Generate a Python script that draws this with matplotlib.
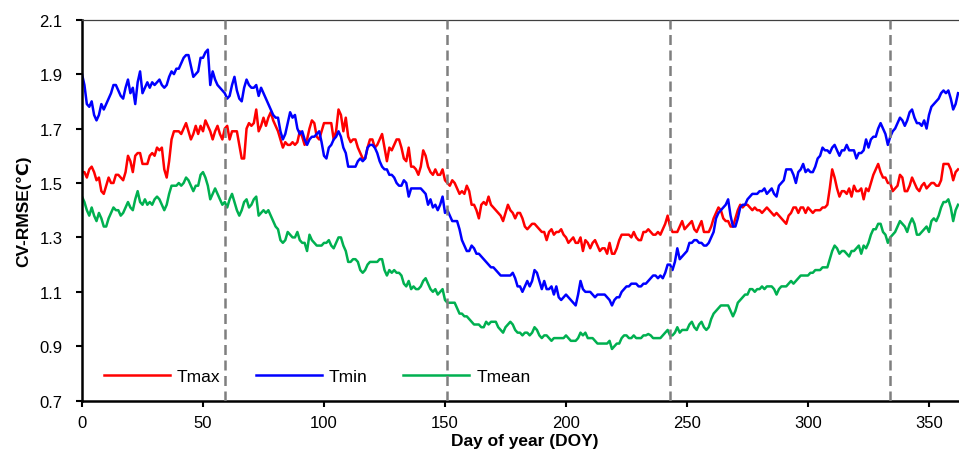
import matplotlib
matplotlib.use("Agg")
import matplotlib.pyplot as plt

plt.rcParams['font.family'] = ['Liberation Sans', 'DejaVu Sans']

# CV-RMSE by day of year
tmax = [
    1.54, 1.54, 1.52, 1.55, 1.56, 1.54, 1.51, 1.52, 1.47, 1.46,
    1.49, 1.52, 1.50, 1.50, 1.53, 1.53, 1.52, 1.51, 1.54, 1.60,
    1.58, 1.54, 1.60, 1.61, 1.61, 1.57, 1.57, 1.57, 1.60, 1.61,
    1.60, 1.63, 1.62, 1.63, 1.55, 1.52, 1.58, 1.66, 1.69, 1.69,
    1.69, 1.68, 1.70, 1.72, 1.69, 1.66, 1.68, 1.71, 1.68, 1.71,
    1.69, 1.73, 1.71, 1.69, 1.66, 1.69, 1.71, 1.68, 1.66, 1.70,
    1.71, 1.66, 1.69, 1.69, 1.69, 1.64, 1.59, 1.59, 1.70, 1.72,
    1.71, 1.72, 1.77, 1.69, 1.71, 1.74, 1.71, 1.74, 1.76, 1.73,
    1.71, 1.69, 1.66, 1.63, 1.65, 1.64, 1.64, 1.65, 1.64, 1.65,
    1.69, 1.67, 1.64, 1.66, 1.70, 1.73, 1.72, 1.67, 1.66, 1.69,
    1.72, 1.72, 1.72, 1.72, 1.66, 1.69, 1.77, 1.75, 1.69, 1.74,
    1.67, 1.65, 1.66, 1.66, 1.63, 1.61, 1.59, 1.59, 1.63, 1.66,
    1.66, 1.63, 1.64, 1.66, 1.68, 1.63, 1.58, 1.63, 1.62, 1.64,
    1.66, 1.66, 1.63, 1.59, 1.58, 1.63, 1.56, 1.56, 1.55, 1.53,
    1.56, 1.62, 1.60, 1.56, 1.54, 1.53, 1.55, 1.53, 1.53, 1.55,
    1.51, 1.50, 1.49, 1.51, 1.50, 1.48, 1.46, 1.47, 1.46, 1.49,
    1.47, 1.42, 1.42, 1.40, 1.37, 1.42, 1.43, 1.42, 1.45, 1.42,
    1.41, 1.40, 1.39, 1.38, 1.36, 1.39, 1.42, 1.40, 1.39, 1.37,
    1.39, 1.39, 1.37, 1.34, 1.33, 1.34, 1.35, 1.35, 1.34, 1.33,
    1.32, 1.32, 1.29, 1.32, 1.33, 1.31, 1.32, 1.32, 1.33, 1.31,
    1.30, 1.28, 1.29, 1.30, 1.28, 1.28, 1.30, 1.25, 1.29, 1.28,
    1.26, 1.28, 1.29, 1.27, 1.25, 1.26, 1.26, 1.24, 1.28, 1.24,
    1.24, 1.26, 1.29, 1.31, 1.31, 1.31, 1.31, 1.30, 1.32, 1.30,
    1.29, 1.29, 1.32, 1.32, 1.33, 1.32, 1.31, 1.31, 1.32, 1.31,
    1.33, 1.35, 1.38, 1.34, 1.32, 1.32, 1.32, 1.34, 1.36, 1.33,
    1.34, 1.35, 1.36, 1.33, 1.32, 1.34, 1.36, 1.32, 1.32, 1.32,
    1.34, 1.37, 1.39, 1.41, 1.40, 1.37, 1.36, 1.36, 1.34, 1.34,
    1.37, 1.40, 1.42, 1.41, 1.42, 1.42, 1.41, 1.40, 1.41, 1.40,
    1.40, 1.39, 1.40, 1.41, 1.40, 1.39, 1.38, 1.39, 1.38, 1.37,
    1.36, 1.35, 1.38, 1.39, 1.41, 1.41, 1.39, 1.41, 1.41, 1.39,
    1.41, 1.40, 1.39, 1.40, 1.40, 1.40, 1.41, 1.41, 1.42, 1.48,
    1.55, 1.52, 1.48, 1.45, 1.47, 1.47, 1.46, 1.48, 1.45, 1.49,
    1.47, 1.47, 1.48, 1.44, 1.48, 1.47, 1.50, 1.53, 1.55, 1.57,
    1.54, 1.52, 1.52, 1.50, 1.50, 1.47, 1.48, 1.49, 1.53, 1.52,
    1.47, 1.47, 1.49, 1.52, 1.50, 1.48, 1.47, 1.49, 1.50, 1.48,
    1.49, 1.50, 1.50, 1.49, 1.49, 1.51, 1.57, 1.57, 1.57, 1.55,
    1.51, 1.54, 1.55,
]

tmin = [
    1.90, 1.86, 1.79, 1.78, 1.80, 1.75, 1.73, 1.75, 1.79, 1.77,
    1.79, 1.81, 1.83, 1.86, 1.86, 1.84, 1.82, 1.81, 1.85, 1.88,
    1.83, 1.85, 1.79, 1.87, 1.91, 1.83, 1.85, 1.87, 1.85, 1.87,
    1.86, 1.87, 1.88, 1.86, 1.85, 1.86, 1.89, 1.91, 1.90, 1.92,
    1.92, 1.94, 1.96, 1.97, 1.97, 1.93, 1.89, 1.90, 1.91, 1.96,
    1.96, 1.98, 1.99, 1.86, 1.91, 1.88, 1.86, 1.85, 1.84, 1.83,
    1.81, 1.82, 1.86, 1.89, 1.84, 1.81, 1.80, 1.85, 1.88, 1.86,
    1.85, 1.85, 1.86, 1.82, 1.85, 1.83, 1.81, 1.79, 1.77, 1.75,
    1.74, 1.74, 1.69, 1.66, 1.68, 1.72, 1.76, 1.74, 1.75, 1.70,
    1.68, 1.69, 1.66, 1.64, 1.66, 1.67, 1.67, 1.68, 1.69, 1.65,
    1.60, 1.59, 1.63, 1.64, 1.66, 1.67, 1.69, 1.67, 1.63, 1.61,
    1.56, 1.56, 1.56, 1.56, 1.58, 1.59, 1.58, 1.59, 1.63, 1.64,
    1.64, 1.63, 1.61, 1.58, 1.56, 1.55, 1.55, 1.53, 1.53, 1.52,
    1.50, 1.49, 1.49, 1.51, 1.50, 1.45, 1.48, 1.48, 1.48, 1.48,
    1.48, 1.47, 1.46, 1.42, 1.44, 1.41, 1.42, 1.40, 1.42, 1.45,
    1.39, 1.40, 1.38, 1.36, 1.36, 1.36, 1.33, 1.29, 1.27, 1.25,
    1.25, 1.27, 1.26, 1.24, 1.24, 1.23, 1.22, 1.21, 1.20, 1.19,
    1.19, 1.18, 1.17, 1.16, 1.16, 1.16, 1.16, 1.16, 1.17, 1.15,
    1.12, 1.12, 1.10, 1.12, 1.14, 1.12, 1.14, 1.18, 1.17, 1.14,
    1.11, 1.14, 1.11, 1.11, 1.12, 1.09, 1.12, 1.08, 1.07, 1.08,
    1.09, 1.08, 1.07, 1.06, 1.05, 1.09, 1.14, 1.11, 1.10, 1.10,
    1.10, 1.09, 1.08, 1.09, 1.09, 1.09, 1.09, 1.08, 1.07, 1.05,
    1.07, 1.08, 1.08, 1.10, 1.11, 1.12, 1.12, 1.13, 1.13, 1.13,
    1.12, 1.12, 1.13, 1.13, 1.14, 1.15, 1.16, 1.16, 1.15, 1.16,
    1.15, 1.17, 1.20, 1.20, 1.18, 1.21, 1.26, 1.22, 1.23, 1.24,
    1.25, 1.28, 1.28, 1.29, 1.29, 1.28, 1.28, 1.27, 1.27, 1.28,
    1.30, 1.32, 1.37, 1.39, 1.40, 1.41, 1.42, 1.44, 1.38, 1.34,
    1.34, 1.37, 1.41, 1.42, 1.42, 1.44, 1.45, 1.46, 1.46, 1.46,
    1.47, 1.47, 1.48, 1.46, 1.47, 1.48, 1.46, 1.45, 1.49, 1.50,
    1.51, 1.55, 1.55, 1.55, 1.53, 1.50, 1.54, 1.55, 1.57, 1.54,
    1.55, 1.54, 1.54, 1.56, 1.59, 1.60, 1.63, 1.62, 1.62, 1.61,
    1.63, 1.64, 1.62, 1.60, 1.62, 1.62, 1.64, 1.62, 1.62, 1.62,
    1.59, 1.61, 1.61, 1.62, 1.66, 1.63, 1.66, 1.67, 1.67, 1.70,
    1.72, 1.70, 1.68, 1.64, 1.67, 1.69, 1.70, 1.72, 1.74, 1.73,
    1.71, 1.73, 1.76, 1.77, 1.74, 1.72, 1.72, 1.71, 1.73, 1.70,
    1.75, 1.78, 1.79, 1.80, 1.81, 1.83, 1.84, 1.83, 1.84, 1.81,
    1.77, 1.79, 1.83,
]

tmean = [
    1.45, 1.43, 1.40, 1.38, 1.41, 1.38, 1.36, 1.39, 1.37, 1.34,
    1.34, 1.37, 1.39, 1.41, 1.40, 1.40, 1.38, 1.39, 1.41, 1.43,
    1.41, 1.40, 1.44, 1.47, 1.43, 1.42, 1.44, 1.42, 1.43, 1.42,
    1.44, 1.45, 1.44, 1.42, 1.40, 1.42, 1.46, 1.49, 1.49, 1.49,
    1.50, 1.49, 1.50, 1.52, 1.51, 1.49, 1.47, 1.49, 1.49, 1.53,
    1.54, 1.52, 1.49, 1.44, 1.46, 1.48, 1.46, 1.44, 1.42, 1.43,
    1.41, 1.44, 1.46, 1.43, 1.40, 1.38, 1.40, 1.43, 1.44, 1.41,
    1.42, 1.44, 1.45, 1.38, 1.39, 1.40, 1.39, 1.40, 1.38, 1.36,
    1.34, 1.33, 1.29, 1.28, 1.29, 1.32, 1.31, 1.30, 1.30, 1.32,
    1.29, 1.28, 1.28, 1.25, 1.31, 1.29, 1.28, 1.27, 1.27, 1.27,
    1.28, 1.28, 1.29, 1.27, 1.26, 1.28, 1.30, 1.30, 1.27, 1.25,
    1.21, 1.21, 1.22, 1.22, 1.21, 1.18, 1.17, 1.18, 1.20, 1.21,
    1.21, 1.21, 1.21, 1.22, 1.22, 1.18, 1.16, 1.18, 1.17, 1.18,
    1.17, 1.17, 1.16, 1.13, 1.12, 1.14, 1.11, 1.12, 1.11, 1.11,
    1.12, 1.14, 1.15, 1.13, 1.11, 1.10, 1.11, 1.09, 1.10, 1.11,
    1.07, 1.06, 1.06, 1.06, 1.06, 1.04, 1.02, 1.02, 1.01, 1.01,
    1.00, 0.99, 0.98, 0.98, 0.98, 0.97, 0.97, 0.99, 0.98, 0.99,
    0.99, 0.99, 0.97, 0.96, 0.95, 0.97, 0.98, 0.99, 0.98, 0.96,
    0.95, 0.95, 0.94, 0.95, 0.95, 0.94, 0.95, 0.97, 0.96, 0.94,
    0.93, 0.94, 0.94, 0.93, 0.92, 0.93, 0.93, 0.93, 0.93, 0.93,
    0.94, 0.93, 0.92, 0.92, 0.92, 0.93, 0.95, 0.94, 0.95, 0.93,
    0.93, 0.93, 0.92, 0.91, 0.91, 0.91, 0.91, 0.91, 0.92, 0.89,
    0.90, 0.91, 0.91, 0.93, 0.94, 0.94, 0.93, 0.93, 0.94, 0.93,
    0.93, 0.93, 0.94, 0.94, 0.945, 0.94, 0.93, 0.93, 0.93, 0.93,
    0.94, 0.95, 0.96, 0.94, 0.94, 0.95, 0.97, 0.95, 0.96, 0.96,
    0.96, 0.98, 0.99, 0.97, 0.96, 0.98, 0.99, 0.97, 0.96, 0.97,
    1.00, 1.02, 1.03, 1.04, 1.05, 1.05, 1.05, 1.05, 1.03, 1.01,
    1.03, 1.06, 1.07, 1.08, 1.09, 1.09, 1.11, 1.11, 1.10, 1.11,
    1.11, 1.12, 1.11, 1.12, 1.12, 1.12, 1.11, 1.09, 1.11, 1.12,
    1.12, 1.12, 1.13, 1.14, 1.13, 1.14, 1.15, 1.16, 1.16, 1.16,
    1.16, 1.17, 1.17, 1.18, 1.18, 1.18, 1.19, 1.19, 1.19, 1.22,
    1.25, 1.27, 1.26, 1.24, 1.25, 1.25, 1.24, 1.23, 1.25, 1.25,
    1.26, 1.27, 1.24, 1.27, 1.26, 1.28, 1.31, 1.33, 1.33, 1.35,
    1.35, 1.32, 1.31, 1.28, 1.30, 1.31, 1.32, 1.34, 1.36, 1.35,
    1.34, 1.32, 1.35, 1.37, 1.35, 1.31, 1.31, 1.32, 1.33, 1.34,
    1.32, 1.36, 1.37, 1.36, 1.38, 1.41, 1.43, 1.43, 1.44, 1.41,
    1.36, 1.40, 1.42,
]

doy = list(range(len(tmax)))
season_breaks = [59, 151, 243, 334]
xticks = [0, 50, 100, 150, 200, 250, 300, 350]
yticks = [0.7, 0.9, 1.1, 1.3, 1.5, 1.7, 1.9, 2.1]

fig = plt.figure(figsize=(9.59, 4.56), dpi=100)
ax = fig.add_axes([82 / 959, 54.3 / 456, 877 / 959, 381 / 456])

ax.plot(doy, tmax, color='#FF0000', lw=1.8, label='Tmax')
ax.plot(doy, tmin, color='#0000FF', lw=1.8, label='Tmin')
ax.plot(doy, tmean, color='#00B050', lw=1.8, label='Tmean')

for d in season_breaks:
    ax.axvline(d, color='#7F7F7F', lw=1.8, dashes=(4, 2.2), zorder=6)

ax.set_xlim(0, 362.4)
ax.set_ylim(0.7, 2.1)
ax.set_xticks(xticks)
ax.set_yticks(yticks)
ax.set_yticklabels([f'{v:.1f}' for v in yticks])
ax.tick_params(direction='out', length=4, width=1.5, labelsize=12)
ax.tick_params(axis='x', pad=6)
ax.tick_params(axis='y', pad=10)

ax.spines['right'].set_visible(False)
ax.spines['left'].set_linewidth(1.8)
ax.spines['bottom'].set_linewidth(1.8)
ax.spines['top'].set_linewidth(0.9)
ax.spines['top'].set_color('#404040')

ax.set_xlabel('Day of year (DOY)', fontsize=12.5, fontweight='bold')
ax.xaxis.set_label_coords(0.505, -0.085)
ax.set_ylabel('CV-RMSE(℃)', fontsize=12.5, fontweight='bold', labelpad=6)

leg = ax.legend(loc='center left', bbox_to_anchor=(0.025, 0.063), ncol=3,
                frameon=False, fontsize=12.5, handlelength=3.8, handletextpad=0.4,
                columnspacing=2.05, borderpad=0, borderaxespad=0)

fig.savefig('out.png', dpi=100)
